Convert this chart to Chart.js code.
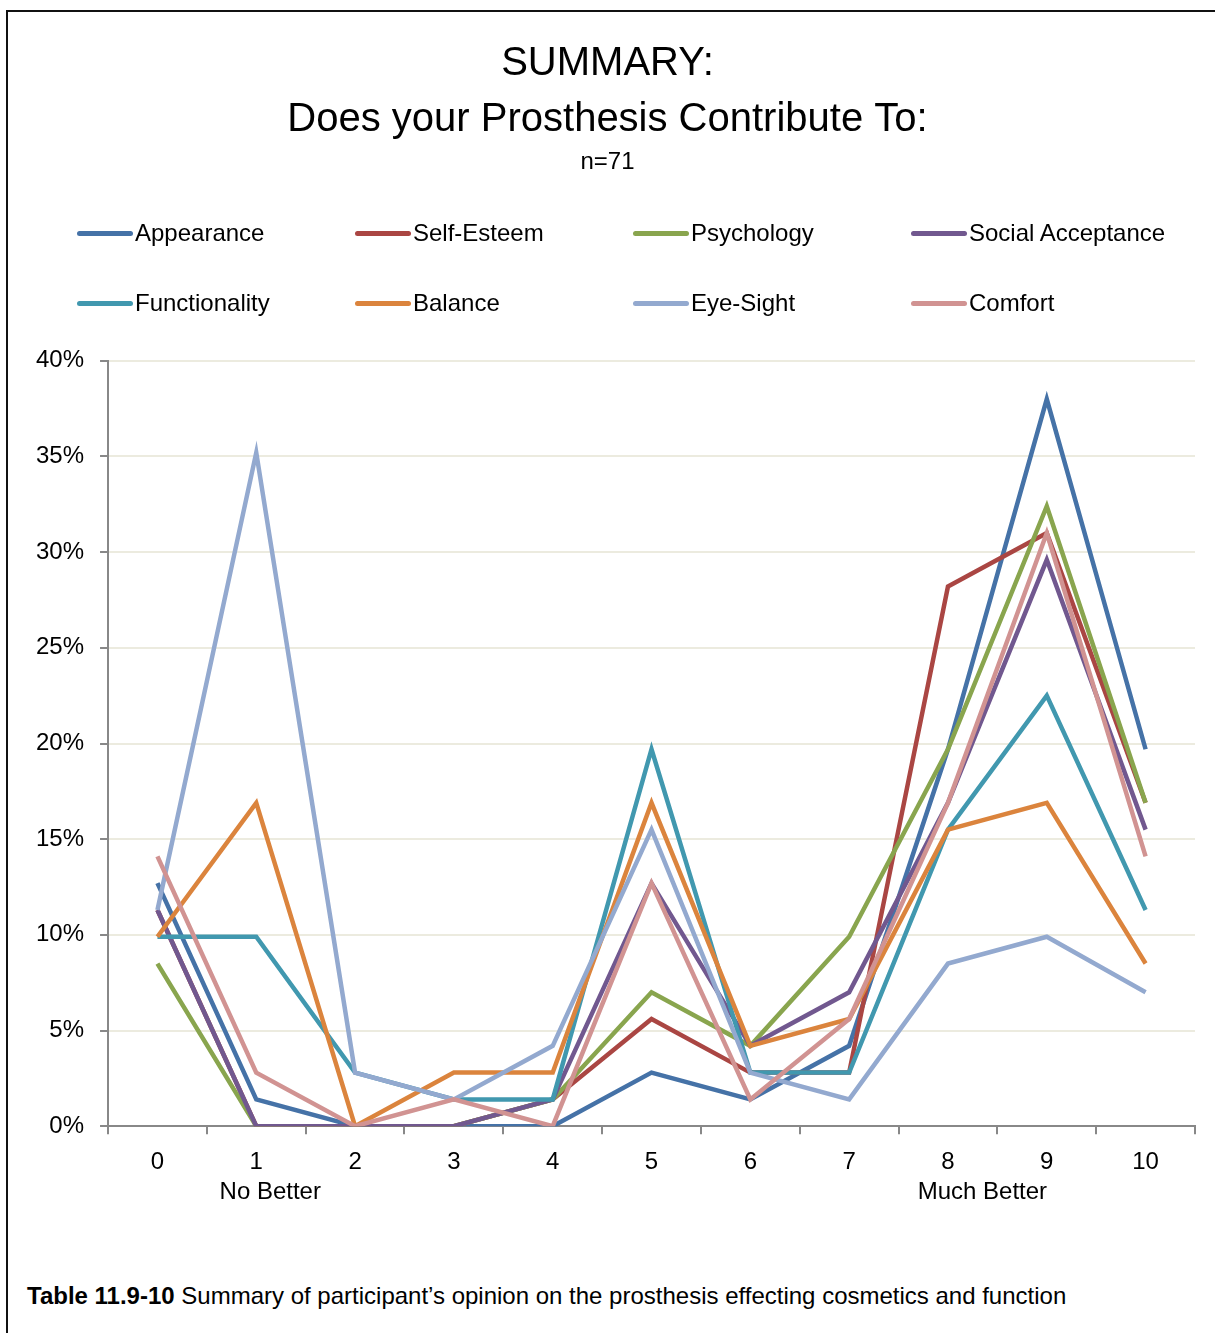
<!DOCTYPE html>
<html>
<head>
<meta charset="utf-8">
<script src="https://cdn.jsdelivr.net/npm/chart.js@4.4.0/dist/chart.umd.min.js"></script>
<style>
  body { margin: 0; background: #fff; font-family: 'Liberation Sans Narrow', 'Arial Narrow', 'Liberation Sans', sans-serif; }
  #page { position: relative; width: 1215px; height: 1333px; overflow: hidden; }
  #frame { position: absolute; left: 6px; top: 10px; width: 1230px; height: 1340px; border-left: 2px solid #111; border-top: 2px solid #111; }
  #wrap { position: absolute; left: 0; top: 0; width: 1215px; height: 1240px; }
  #legend { position: absolute; left: 77px; top: 214px; width: 1120px; display: grid; grid-template-columns: repeat(4, 278px); row-gap: 32px; }
  .item { display: flex; align-items: center; height: 38px; font-size: 24px; color: #000; }
  .swatch { width: 56px; height: 5px; border-radius: 3px; margin-right: 2px; }
  #caption { position: absolute; left: 27px; top: 1282px; font-size: 24px; color: #000; }
</style>
</head>
<body>
<div id="page">
  <div id="frame"></div>
  <div id="wrap"><canvas id="chart"></canvas></div>
  <div id="legend"></div>
  <div id="caption"><b>Table 11.9-10</b> Summary of participant’s opinion on the prosthesis effecting cosmetics and function</div>
</div>
<script>
const fontFamily = "'Liberation Sans Narrow', 'Arial Narrow', 'Liberation Sans', sans-serif";

const scores = ['0', '1', '2', '3', '4', '5', '6', '7', '8', '9', '10'];
const yTicks = [0, 5, 10, 15, 20, 25, 30, 35, 40];

const appearance = [12.7, 1.4, 0, 0, 0, 2.8, 1.4, 4.2, 19.7, 38.0, 19.7];
const selfEsteem = [11.3, 0, 0, 0, 1.4, 5.6, 2.8, 2.8, 28.2, 31.0, 16.9];
const psychology = [8.5, 0, 0, 0, 1.4, 7.0, 4.2, 9.9, 19.7, 32.4, 16.9];
const socialAcceptance = [11.3, 0, 0, 0, 1.4, 12.7, 4.2, 7.0, 16.9, 29.6, 15.5];
const functionality = [9.9, 9.9, 2.8, 1.4, 1.4, 19.7, 2.8, 2.8, 15.5, 22.5, 11.3];
const balance = [9.9, 16.9, 0, 2.8, 2.8, 16.9, 4.2, 5.6, 15.5, 16.9, 8.5];
const eyeSight = [11.3, 35.2, 2.8, 1.4, 4.2, 15.5, 2.8, 1.4, 8.5, 9.9, 7.0];
const comfort = [14.1, 2.8, 0, 1.4, 0, 12.7, 1.4, 5.6, 16.9, 31.0, 14.1];

const seriesNames = ['Appearance', 'Self-Esteem', 'Psychology', 'Social Acceptance',
  'Functionality', 'Balance', 'Eye-Sight', 'Comfort'];
const seriesData = [appearance, selfEsteem, psychology, socialAcceptance,
  functionality, balance, eyeSight, comfort];
const seriesColors = ['#4572A7', '#AA4643', '#89A54E', '#71588F',
  '#4198AF', '#DB843D', '#93A9CF', '#D19392'];

// legend as html, laid out in a 4 column grid
const legendEl = document.getElementById('legend');
seriesNames.forEach((name, i) => {
  const item = document.createElement('div');
  item.className = 'item';
  item.innerHTML = '<span class="swatch" style="background:' + seriesColors[i] + '"></span>' + name;
  legendEl.appendChild(item);
});

// "No Better" / "Much Better" under the score labels
const extraLabels = {
  id: 'extraLabels',
  afterDraw(chart) {
    const ctx = chart.ctx;
    const x = chart.scales.x;
    ctx.save();
    ctx.font = '24px ' + fontFamily;
    ctx.fillStyle = '#000';
    ctx.textAlign = 'center';
    ctx.textBaseline = 'middle';
    ctx.fillText('No Better', x.getPixelForValue(1) + 14, 1192);
    ctx.fillText('Much Better', (x.getPixelForValue(8) + x.getPixelForValue(9)) / 2 - 15, 1192);
    ctx.restore();
  }
};

new Chart(document.getElementById('chart'), {
  type: 'line',
  data: {
    labels: scores,
    datasets: seriesNames.map((name, i) => ({
      label: name,
      data: seriesData[i],
      borderColor: seriesColors[i],
      backgroundColor: seriesColors[i],
      borderWidth: 4.5,
      pointRadius: 0,
      tension: 0,
      order: seriesNames.length - i,
    })),
  },
  options: {
    responsive: true,
    maintainAspectRatio: false,
    animation: false,
    layout: { padding: { left: 20, right: 20, top: 0, bottom: 49 } },
    plugins: {
      legend: { display: false },
      tooltip: { enabled: false },
      title: {
        display: true,
        text: ['SUMMARY:', 'Does your Prosthesis Contribute To:'],
        color: '#000',
        font: { family: fontFamily, size: 40, weight: 'normal', lineHeight: 1.4 },
        padding: { top: 36, bottom: 0 },
      },
      subtitle: {
        display: true,
        text: 'n=71',
        color: '#000',
        font: { family: fontFamily, size: 24, weight: 'normal', lineHeight: 1.2 },
        padding: { top: 0, bottom: 184 },
      },
    },
    scales: {
      x: {
        offset: true,
        grid: { offset: true, drawOnChartArea: false, drawTicks: true, tickLength: 8, color: '#888', lineWidth: 2 },
        border: { color: '#888', width: 2 },
        ticks: { color: '#000', font: { family: fontFamily, size: 24 }, padding: 14, maxRotation: 0 },
      },
      y: {
        min: 0,
        max: 40,
        afterBuildTicks: (axis) => { axis.ticks = yTicks.map(v => ({ value: v })); },
        grid: { color: '#ECEBDF', lineWidth: 2, drawTicks: true, tickLength: 8, tickColor: '#888' },
        border: { color: '#888', width: 2 },
        ticks: {
          color: '#000',
          font: { family: fontFamily, size: 24 },
          padding: 16,
          callback: (v) => v + '%',
        },
      },
    },
  },
  plugins: [extraLabels],
});
</script>
</body>
</html>
